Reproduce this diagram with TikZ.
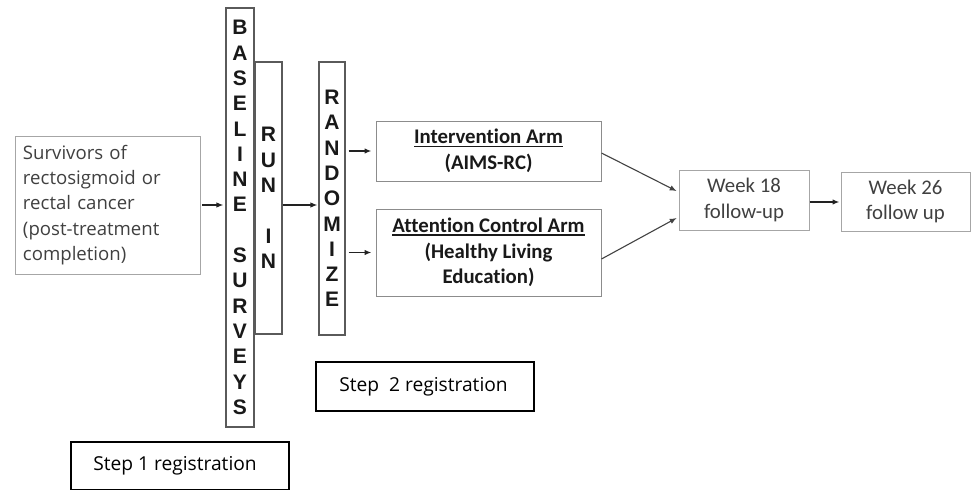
\documentclass[tikz,border=0pt]{standalone}
\usepackage{fontspec}
\setmainfont{Open Sans}
\newfontfamily\cbfont[Ligatures=NoCommon]{Carlito}
\newfontfamily\arfont{Liberation Sans}
\usetikzlibrary{arrows.meta,calc}
\definecolor{txtgray}{HTML}{404040}
\definecolor{boxgray}{HTML}{A6A6A6}
\definecolor{armgray}{HTML}{8C8C8C}
\definecolor{vgray}{HTML}{5A5A5A}
\definecolor{arrowc}{HTML}{222222}
\newcommand\ulx[1]{\setbox0\hbox{#1}\rlap{\rule[-3pt]{\wd0}{1.4pt}}\box0}
\begin{document}
\begin{tikzpicture}[x=1pt,y=-1pt,
  lightbox/.style={draw=boxgray,line width=0.9pt,inner ysep=0pt,inner xsep=8pt},
  armbox/.style={draw=armgray,line width=1pt,inner sep=0pt,align=center,
    font=\cbfont\bfseries\fontsize{20.8}{25.6}\selectfont,text=black!90},
  weekbox/.style={draw=boxgray,line width=1pt,inner sep=0pt,align=center,
    font=\cbfont\fontsize{20.8}{25.9}\selectfont,text=txtgray},
  vbox/.style={draw=vgray,line width=1.1pt,inner sep=0pt,align=center,
    font=\arfont\bfseries\fontsize{21}{25.3}\selectfont,text=black!90},
  stepbox/.style={draw=black,line width=1.2pt,inner sep=0pt,
    font=\fontsize{19.2}{23}\selectfont,text=black},
  arr/.style={draw=arrowc,line width=1.4pt,-{Latex[length=7pt,width=5.5pt]}},
  arrthin/.style={draw=arrowc!85,line width=1.1pt,-{Latex[length=7pt,width=5.5pt]}}]
\useasboundingbox[fill=white] (0,0) rectangle (972,490);

\node[lightbox,minimum width=185pt,minimum height=138pt,text width=169pt,align=left,
  font=\fontsize{18.6}{25.4}\selectfont,text=txtgray] (surv) at (107.5,205)
  {Survivors of\\rectosigmoid or\\rectal cancer\\(post-treatment\\completion)};

\node[vbox,minimum width=28pt,minimum height=419pt] (base) at (240,217.5)
  {B\\A\\S\\E\\L\\I\\N\\E\\[25.3pt]S\\U\\R\\V\\E\\Y\\S};
\node[vbox,minimum width=27pt,minimum height=272pt] (runin) at (268.5,198)
  {R\\U\\N\\[25.3pt]I\\N};
\node[vbox,minimum width=26pt,minimum height=273pt] (rand) at (332,198.5)
  {R\\A\\N\\D\\O\\M\\I\\Z\\E};

\node[armbox,minimum width=225pt,minimum height=60pt] (int) at (488.5,151)
  {\ulx{Intervention Arm}\\(AIMS-RC)};
\node[armbox,minimum width=225pt,minimum height=87pt] (att) at (488.5,252.5)
  {\ulx{Attention Control Arm}\\(Healthy Living\\Education)};

\node[weekbox,minimum width=130pt,minimum height=60pt] (wk18) at (744,200)
  {Week 18\\follow-up};
\node[weekbox,minimum width=129pt,minimum height=59pt] (wk26) at (905.5,201.5)
  {Week 26\\follow up};

\node[stepbox,minimum width=218pt,minimum height=49pt] (step2) at (425,386.5)
  {Step~~2 registration\hspace*{3pt}};
\node[stepbox,minimum width=218pt,minimum height=47.5pt] (step1) at (180,465.75)
  {Step 1 registration\hspace*{10pt}};

\draw[arr,shorten <=2pt,shorten >=2pt] (surv.east) -- (surv.east -| base.west);
\draw[arr,shorten >=1pt] (runin.east |- surv.east) -- (rand.west |- surv.east);
\draw[arr,shorten <=3pt,shorten >=4pt] (rand.east |- int.west) -- (int.west);
\draw[arr,shorten <=3pt,shorten >=4pt] (rand.east |- att.west) -- (att.west);
\draw[arrthin,shorten >=2pt] ($(int.east)+(0,2)$) -- ($(wk18.west)+(0,-8)$);
\draw[arrthin,shorten >=2pt] ($(att.east)+(0,6.5)$) -- ($(wk18.west)+(0,17)$);
\draw[arr,shorten >=1pt] ($(wk18.east)+(0,2)$) -- ($(wk26.west)+(0,0.5)$);
\end{tikzpicture}
\end{document}
